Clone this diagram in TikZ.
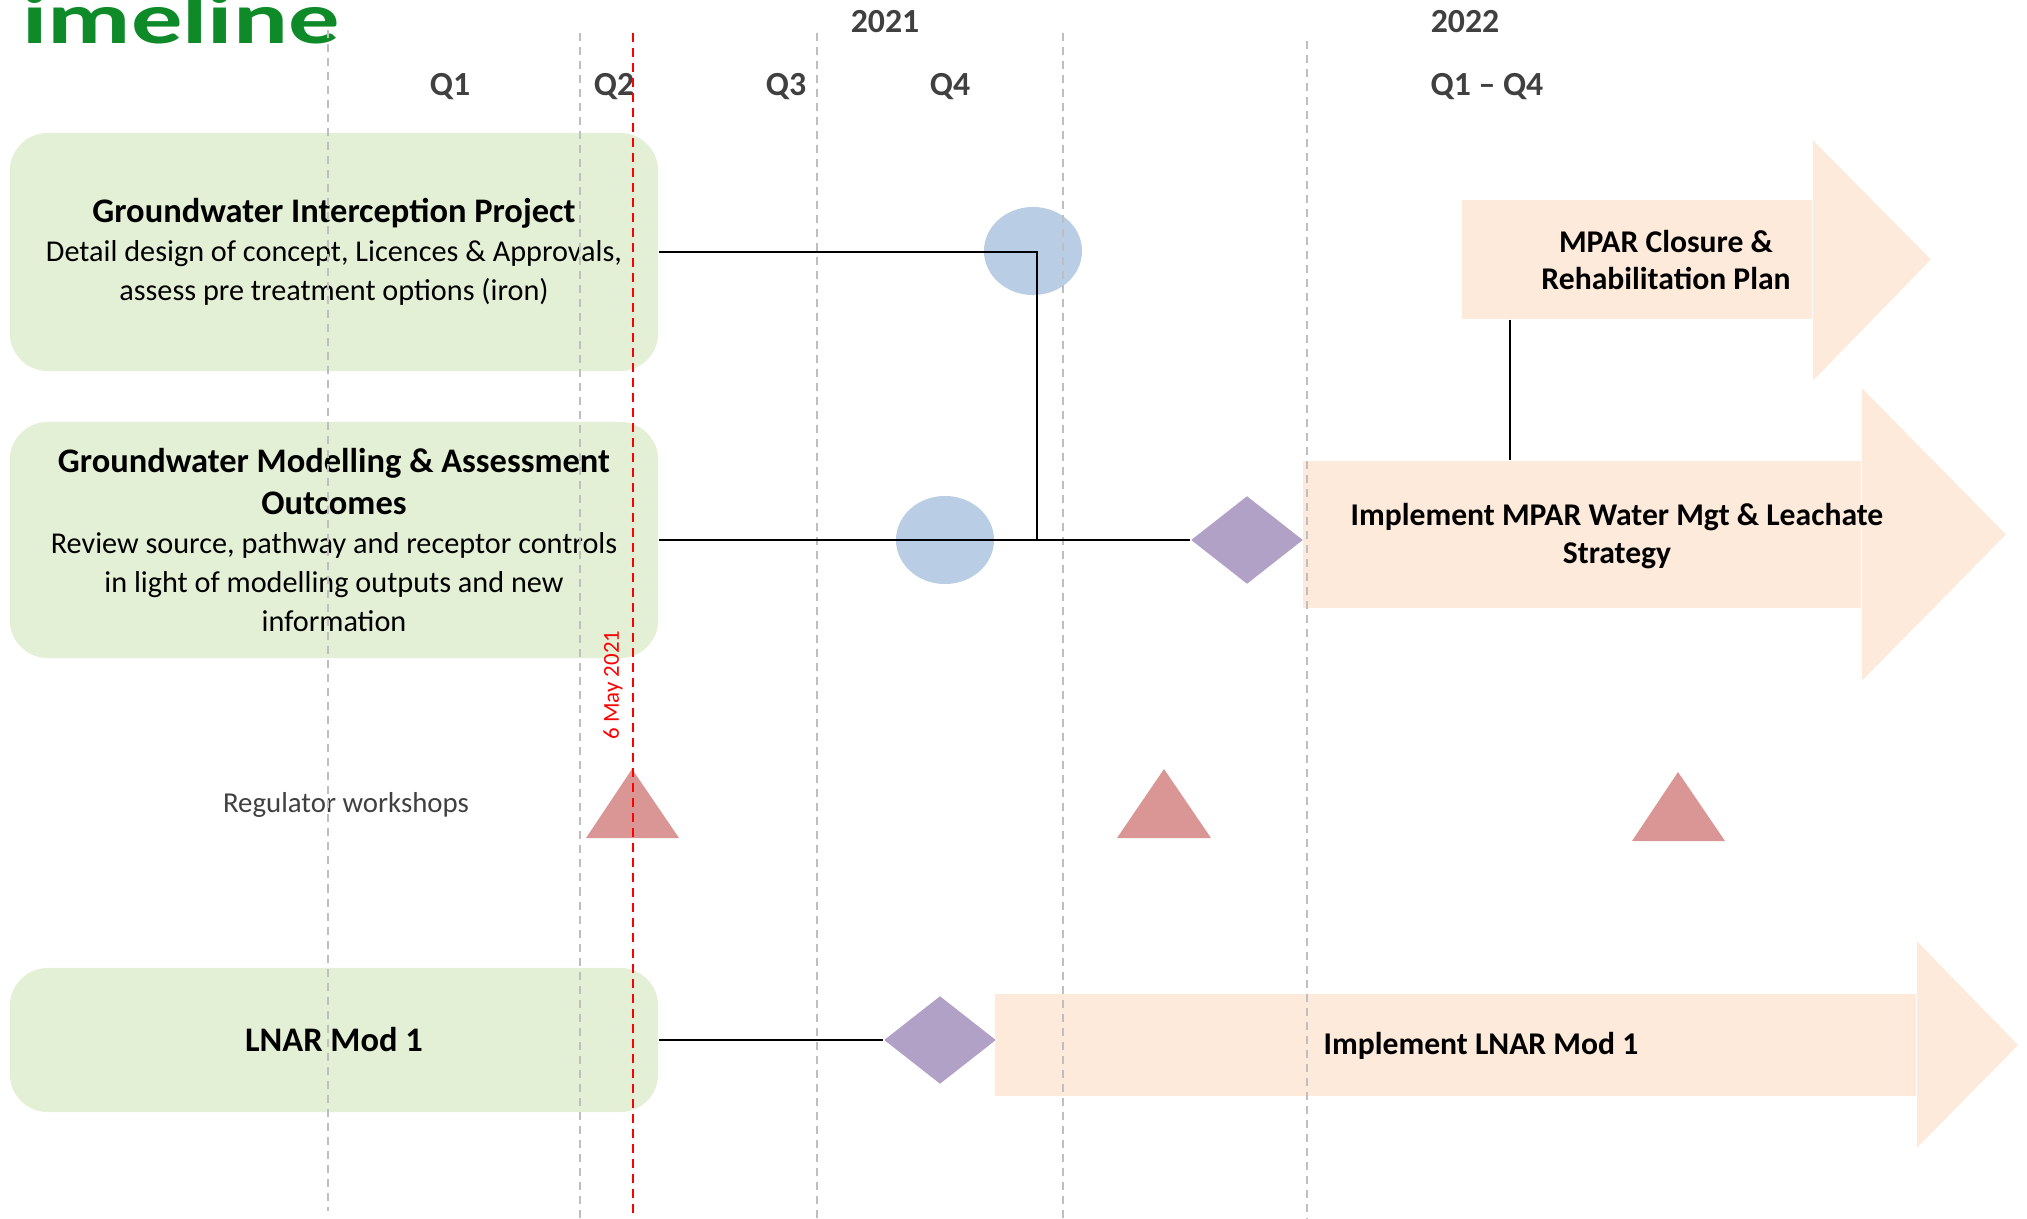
\documentclass[tikz,border=0pt]{standalone}
\usepackage{fontspec}
\setmainfont{Carlito}
\usepackage{graphicx}
\usepackage{tikz}
\usetikzlibrary{shapes.geometric}

\definecolor{boxgreen}{RGB}{227,240,213}
\definecolor{peach}{RGB}{253,234,218}
\definecolor{doneblue}{RGB}{185,205,229}
\definecolor{gatepurple}{RGB}{178,161,199}
\definecolor{workshoprose}{RGB}{217,150,148}
\definecolor{gridgrey}{RGB}{191,191,191}
\definecolor{labelgrey}{RGB}{64,64,64}
\definecolor{titlegreen}{RGB}{14,138,40}

\newcommand{\bodytxt}{\fontsize{8.6}{11.1}\selectfont}
\newcommand{\titletxt}{\fontsize{9.8}{11.6}\selectfont\bfseries}
\newcommand{\headtxt}{\fontsize{9.6}{11}\selectfont\bfseries}
\newcommand{\arrowtxt}{\fontsize{9}{10.8}\selectfont\bfseries}
\newcommand{\notetxt}{\fontsize{8.2}{10}\selectfont}
\newcommand{\datetxt}{\fontsize{6.5}{8}\selectfont}

\begin{document}
\begin{tikzpicture}[
	  x=0.01cm, y=-0.01cm,
	  task/.style={fill=boxgreen, rounded corners=0.38cm, minimum width=6.48cm, align=center, inner sep=0pt, font=\bodytxt},
	  arrowbody/.style={fill=peach, inner sep=0pt},
	  arrowtext/.style={align=center, font=\arrowtxt},
	  done/.style={ellipse, fill=doneblue, minimum width=0.98cm, minimum height=0.88cm, inner sep=0pt},
	  gate/.style={diamond, fill=gatepurple, minimum width=1.12cm, minimum height=0.88cm, inner sep=0pt},
	  quarter/.style={font=\headtxt, text=labelgrey},
	  gridline/.style={draw=gridgrey, line width=0.6pt, dash pattern=on 0.08cm off 0.06cm},
	  datemark/.style={draw=red, line width=0.6pt, dash pattern=on 0.09cm off 0.06cm},
	  link/.style={draw=black, line width=0.7pt},
	]
	\useasboundingbox (0,0) rectangle (2027,1218);
	
	% Title (cut at the top)
	\node[anchor=base west, inner sep=0pt, text=titlegreen] (title) at (22,44) {\scalebox{1.40}[1]{\fontsize{20.8}{24}\selectfont\bfseries imeline}};
	
	% Time axis
	\node[quarter] (y2021) at (885,22) {2021};
	\node[quarter] (y2022) at (1465,22) {2022};
	\node[quarter] (q1) at (450,87) {Q1};
	\node[quarter] (q2) at (614,87) {Q2};
	\node[quarter] (q3) at (786,87) {Q3};
	\node[quarter] (q4) at (950,87) {Q4};
	\node[quarter] (qall) at (1487,87) {Q1 -- Q4};
	
	% Work packages
	\node[task, minimum height=2.38cm] (gwip) at (334,252) {
		{\titletxt Groundwater Interception Project}\\
		Detail design of concept, Licences \& Approvals,\\
		assess pre treatment options (iron)
	};
	\node[task, minimum height=2.36cm] (gwma) at (334,540) {
		{\titletxt Groundwater Modelling \& Assessment}\\[1pt]
		{\titletxt Outcomes}\\
		Review source, pathway and receptor controls\\
		in light of modelling outputs and new\\
		information
	};
	\node[task, minimum height=1.44cm, font=\titletxt] (lnar) at (334,1040) {LNAR Mod 1};
	
	% Milestones
	\node[done] (gwipdone) at (1033,251) {};
	\node[done] (gwmadone) at (945,540) {};
	\node[gate] (mpargate) at (1247,540) {};
	\node[gate] (lnargate) at (940,1040) {};
	
	% Arrows 2022
	\node[arrowbody, minimum width=3.5cm, minimum height=1.19cm] (closure) at (1637,259.5) {};
	\fill[peach] ([yshift=0.59cm]closure.north east) -- ([xshift=1.18cm]closure.east) -- ([yshift=-0.61cm]closure.south east) -- cycle;
	\node[arrowtext] (closuretext) at (1666,260) {MPAR Closure \&\\Rehabilitation Plan};
	
	\node[arrowbody, minimum width=5.58cm, minimum height=1.47cm] (mpar) at (1582,534.5) {};
	\fill[peach] ([yshift=0.72cm]mpar.north east) -- ([xshift=1.44cm]mpar.east) -- ([yshift=-0.72cm]mpar.south east) -- cycle;
	\node[arrowtext] (mpartext) at (1617,536) {Implement MPAR Water Mgt \& Leachate\\Strategy};
	
	\node[arrowbody, minimum width=9.21cm, minimum height=1.02cm] (lnarimpl) at (1455.5,1045) {};
	\fill[peach] ([yshift=0.52cm]lnarimpl.north east) -- ([xshift=1.01cm]lnarimpl.east) -- ([yshift=-0.51cm]lnarimpl.south east) -- cycle;
	\node[arrowtext] (lnartext) at (1481,1046) {Implement LNAR Mod 1};
	
	% Regulator workshops
	\node[font=\notetxt, text=labelgrey] (workshops) at (346,805) {Regulator workshops};
	\fill[workshoprose] (632,769) -- (679,838) -- (586,838) -- cycle;
	\fill[workshoprose] (1164,769) -- (1211,838) -- (1117,838) -- cycle;
	\fill[workshoprose] (1678,772) -- (1725,841) -- (1632,841) -- cycle;
	
	% Quarter lines
	\draw[gridline] (328,30) -- (328,1211);
	\draw[gridline] (580,33) -- (580,1218);
	\draw[gridline] (817,33) -- (817,1218);
	\draw[gridline] (1063,33) -- (1063,1218);
	\draw[gridline] (1307,41) -- (1307,1218);
	
	% Today line
	\draw[datemark] (633,33) -- (633,1218);
	\node[rotate=90, text=red, font=\datetxt] (mayday) at (613,685) {6 May 2021};
	
	% Links
	\coordinate (junction) at (1037,540);
	\draw[link] (gwip.east) -| (junction);
	\draw[link] (gwma.east) -- (mpargate.west);
	\draw[link] ([xshift=0.49cm]closure.south west) -- ([xshift=0.49cm]closure.south west |- mpar.north);
	\draw[link] (lnar.east) -- (lnargate.west);
	
\end{tikzpicture}
\end{document}
